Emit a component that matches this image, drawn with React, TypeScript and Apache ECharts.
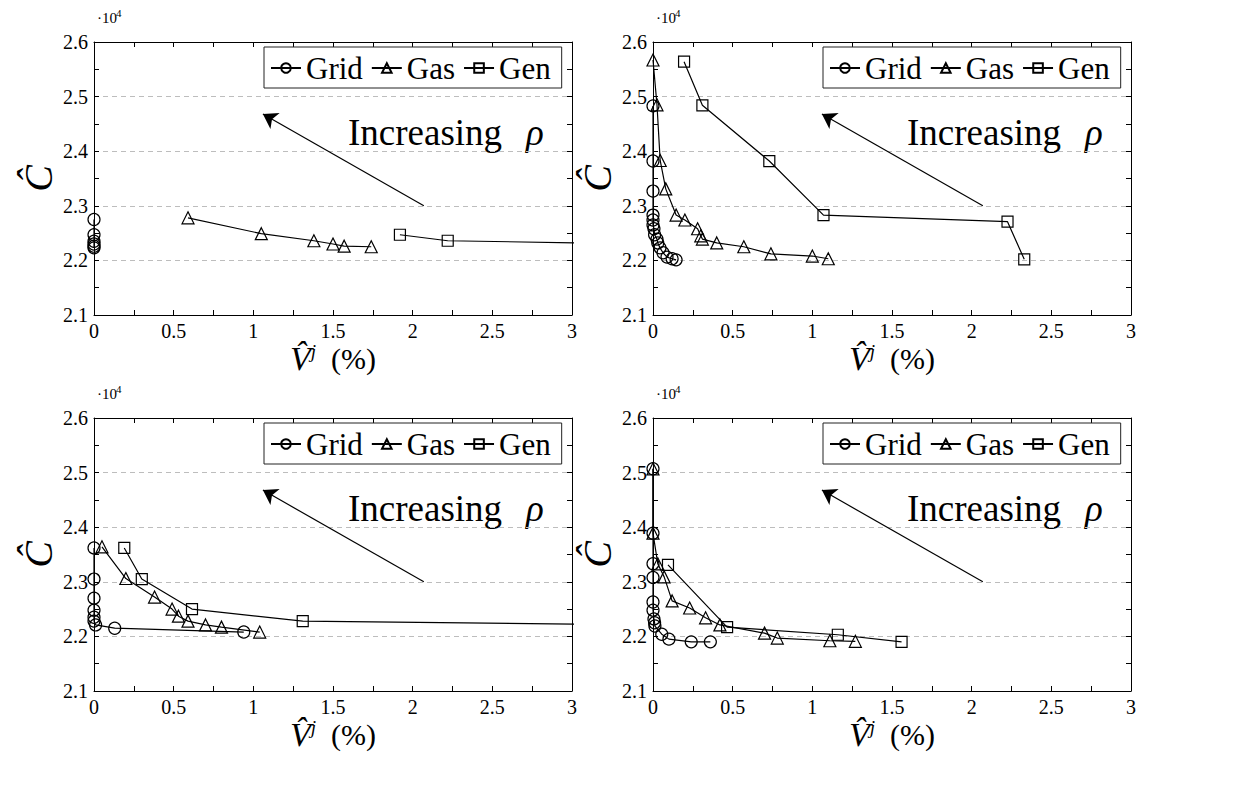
import React, { useEffect, useRef } from 'react';
import * as echarts from 'echarts';

const FONT = 'Liberation Serif';

// Series names, markers
const seriesNames = ['Grid', 'Gas', 'Gen'];
const seriesSymbols = ['circle', 'triangle', 'rect'];
const seriesSymbolSizes = [12, 12, 11];

// Axis ranges (x in %, y raw cost)
const xMin = 0, xMax = 3, xStep = 0.5;
const yMin = 21000, yMax = 26000, yStep = 1000;

// Top-left panel
const tlGrid = [[0, 22750], [0, 22470], [0, 22350], [0, 22300], [0, 22260], [0, 22230]];
const tlGas = [[0.59, 22780], [1.05, 22490], [1.38, 22360], [1.5, 22300], [1.57, 22260], [1.74, 22250]];
const tlGen = [[1.92, 22470], [2.22, 22360], [4.5, 22250]];

// Top-right panel
const trGrid = [[0, 24830], [0, 23820], [0, 23270], [0, 22830], [0, 22740], [0, 22650], [0.006, 22580], [0.01, 22470], [0.025, 22390], [0.03, 22320], [0.044, 22230], [0.063, 22140], [0.088, 22060], [0.12, 22030], [0.145, 22010]];
const trGas = [[0, 25670], [0.025, 24850], [0.045, 23830], [0.08, 23310], [0.145, 22830], [0.2, 22740], [0.28, 22580], [0.3, 22450], [0.31, 22390], [0.4, 22320], [0.57, 22250], [0.74, 22120], [1.0, 22080], [1.1, 22030]];
const trGen = [[0.195, 25640], [0.31, 24840], [0.73, 23820], [1.07, 22830], [2.225, 22710], [2.33, 22020]];

// Bottom-left panel
const blGrid = [[0, 23620], [0, 23050], [0, 22700], [0, 22480], [0, 22350], [0, 22280], [0.01, 22210], [0.13, 22150], [0.94, 22080]];
const blGas = [[0.05, 23640], [0.2, 23060], [0.38, 22720], [0.49, 22500], [0.53, 22370], [0.59, 22280], [0.7, 22210], [0.8, 22170], [1.04, 22080]];
const blGen = [[0.19, 23620], [0.3, 23050], [0.615, 22500], [1.31, 22280], [3.8, 22200]];

// Bottom-right panel
const brGrid = [[0, 25070], [0, 23890], [0, 23330], [0, 23080], [0, 22630], [0, 22480], [0.006, 22320], [0.01, 22250], [0.012, 22190], [0.055, 22040], [0.1, 21950], [0.24, 21900], [0.36, 21900]];
const brGas = [[0, 25070], [0, 23890], [0.03, 23330], [0.07, 23090], [0.12, 22650], [0.23, 22520], [0.33, 22340], [0.42, 22210], [0.7, 22060], [0.78, 21970], [1.11, 21920], [1.27, 21910]];
const brGen = [[0.094, 23310], [0.465, 22170], [1.16, 22030], [1.56, 21900]];

// Annotation arrow (data coords)
const arrowTail = [2.07, 23000];
const arrowTip = [1.06, 24680];

const panelData = [
  [tlGrid, tlGas, tlGen],
  [trGrid, trGas, trGen],
  [blGrid, blGas, blGen],
  [brGrid, brGas, brGen],
];

// layout
const panelLayout = [
  { left: 94, top: 42 },
  { left: 653, top: 42 },
  { left: 94, top: 418 },
  { left: 653, top: 418 },
];
const PW = 478;
const PH = 273;

function buildOption() {
  const tickStyle = { color: '#000', width: 1 };
  const axisLine = { show: true, onZero: false, lineStyle: { color: '#000', width: 1 } };

  const grid = panelLayout.map((p) => ({ left: p.left, top: p.top, width: PW, height: PH }));

  const xAxis: any[] = [];
  const yAxis: any[] = [];
  panelLayout.forEach((_, i) => {
    xAxis.push({
      type: 'value', gridIndex: i, position: 'bottom', min: xMin, max: xMax, interval: xStep,
      axisLine, axisTick: { show: true, inside: true, length: 5, lineStyle: tickStyle },
      minorTick: { show: true, splitNumber: 2, length: 5, lineStyle: tickStyle },
      splitLine: { show: false },
      axisLabel: { color: '#000', fontFamily: FONT, fontSize: 20, margin: 6, formatter: (v: number) => String(v) },
      name: '{v|V̂}{s|j}{p|  (%)}', nameLocation: 'middle', nameGap: 18,
      nameTextStyle: {
        color: '#000', fontFamily: FONT,
        rich: {
          v: { fontFamily: FONT, fontSize: 34, fontStyle: 'italic', color: '#000' },
          s: { fontFamily: FONT, fontSize: 19, fontStyle: 'italic', color: '#000', verticalAlign: 'top', padding: [0, 0, 10, 0] },
          p: { fontFamily: FONT, fontSize: 30, color: '#000' },
        },
      },
    });
    xAxis.push({
      type: 'value', gridIndex: i, position: 'top', min: xMin, max: xMax, interval: xStep,
      axisLine, axisTick: { show: true, inside: true, length: 5, lineStyle: tickStyle },
      minorTick: { show: true, splitNumber: 2, length: 5, lineStyle: tickStyle },
      splitLine: { show: false }, axisLabel: { show: false },
    });
    yAxis.push({
      type: 'value', gridIndex: i, position: 'left', min: yMin, max: yMax, interval: yStep,
      axisLine, axisTick: { show: true, inside: true, length: 5, lineStyle: tickStyle },
      minorTick: { show: true, splitNumber: 2, length: 5, lineStyle: tickStyle },
      splitLine: { show: true, showMinLine: false, showMaxLine: false, lineStyle: { color: '#bdbdbd', width: 1, type: [5, 4] } },
      axisLabel: { color: '#000', fontFamily: FONT, fontSize: 20, margin: 6, formatter: (v: number) => (v / 10000).toFixed(1) },
      name: 'Ĉ', nameLocation: 'middle', nameGap: 36, nameRotate: 90,
      nameTextStyle: { color: '#000', fontFamily: FONT, fontSize: 40, fontStyle: 'italic' },
    });
    yAxis.push({
      type: 'value', gridIndex: i, position: 'right', min: yMin, max: yMax, interval: yStep,
      axisLine, axisTick: { show: true, inside: true, length: 5, lineStyle: tickStyle },
      minorTick: { show: true, splitNumber: 2, length: 5, lineStyle: tickStyle },
      splitLine: { show: false }, axisLabel: { show: false },
    });
  });

  const series: any[] = [];
  panelData.forEach((sets, i) => {
    sets.forEach((data, k) => {
      const s: any = {
        type: 'line', name: seriesNames[k], xAxisIndex: 2 * i, yAxisIndex: 2 * i,
        data, symbol: seriesSymbols[k], symbolSize: seriesSymbolSizes[k], showAllSymbol: true,
        lineStyle: { color: '#000', width: 1.2 },
        itemStyle: { color: 'rgba(255,255,255,0)', borderColor: '#000', borderWidth: 1.2 },
        emphasis: { disabled: true }, silent: true,
      };
      if (k === 0) {
        s.markLine = {
          silent: true, animation: false,
          symbol: ['none', 'arrow'], symbolSize: 14,
          label: { show: false },
          lineStyle: { color: '#000', width: 1.2, type: 'solid' },
          data: [[{ coord: arrowTail }, { coord: arrowTip }]],
        };
      }
      series.push(s);
    });
  });

  const legend = panelLayout.map((p) => ({
    data: seriesNames, left: p.left + 170, top: p.top + 5, orient: 'horizontal',
    borderColor: '#222', borderWidth: 1, borderRadius: 0, padding: [5, 11, 4, 6],
    itemWidth: 30, itemHeight: 12, itemGap: 8, selectedMode: false,
    textStyle: { color: '#000', fontFamily: FONT, fontSize: 31, lineHeight: 32 },
  }));

  const graphic: any[] = [];
  panelLayout.forEach((p) => {
    graphic.push({ type: 'text', x: p.left + 3, y: p.top - 24, style: { text: '·10', font: `15px ${FONT}`, fill: '#000', verticalAlign: 'middle' } });
    graphic.push({ type: 'text', x: p.left + 22, y: p.top - 29, style: { text: '4', font: `11px ${FONT}`, fill: '#000', verticalAlign: 'middle' } });
    graphic.push({ type: 'text', x: p.left + 254, y: p.top + 90, style: { text: 'Increasing', font: `37px ${FONT}`, fill: '#000', verticalAlign: 'middle' } });
    graphic.push({ type: 'text', x: p.left + 432, y: p.top + 90, style: { text: 'ρ', font: `italic 37px ${FONT}`, fill: '#000', verticalAlign: 'middle' } });
  });

  return { animation: false, textStyle: { fontFamily: FONT, color: '#000' }, grid, xAxis, yAxis, series, legend, graphic };
}

export default function App() {
  const ref = useRef<HTMLDivElement>(null);
  useEffect(() => {
    if (!ref.current) return;
    const chart = echarts.init(ref.current, null, { renderer: 'svg' });
    chart.setOption(buildOption() as any);
    return () => chart.dispose();
  }, []);
  return <div ref={ref} style={{ position: 'fixed', left: 0, top: 0, width: 1242, height: 790, background: '#fff' }} />;
}
